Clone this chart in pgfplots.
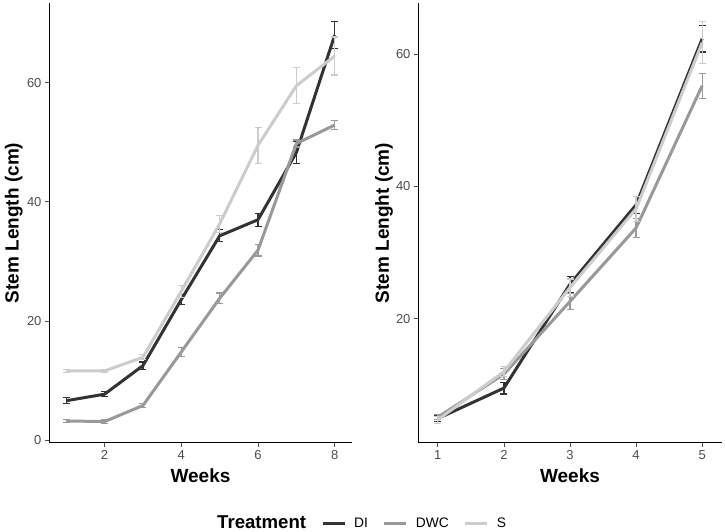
\documentclass[border=0pt]{standalone}
\usepackage{pgfplots}
\pgfplotsset{compat=1.18}
\usepackage{fontspec}
\setmainfont{Liberation Sans}
\definecolor{cDI}{HTML}{333333}
\definecolor{cDWC}{HTML}{999999}
\definecolor{cS}{HTML}{CCCCCC}
\definecolor{tickgray}{HTML}{4D4D4D}

\pgfplotsset{
  myax/.style={
    scale only axis, height=440pt,
    axis x line*=bottom, axis y line*=left,
    axis line style={black, line width=1pt, -},
    tick align=outside, major tick length=4pt,
    tick style={color=tickgray, line width=0.8pt},
    ticklabel style={font=\fontsize{13}{15}\selectfont, text=tickgray},
    /pgf/number format/assume math mode=true,
    label style={font=\fontsize{19}{22}\selectfont\bfseries},
    ylabel style={at={(axis description cs:-0.086,0.5)}, anchor=south, inner sep=0pt},
    xlabel style={at={(axis description cs:0.5,-0.059)}, anchor=north, inner sep=0pt},
  },
  ser/.style={color=#1, line width=3pt, line join=round, no markers,
    error bars/.cd, y dir=both, y explicit,
    error bar style={color=#1, line width=1.2pt},
    error mark options={color=#1, line width=1.2pt, mark size=3.5pt, rotate=90}},
}

\begin{document}
\begin{tikzpicture}
\path[use as bounding box] (0pt,0pt) rectangle (725pt,532pt);

\begin{axis}[myax, at={(49pt,89pt)}, anchor=south west, width=303pt,
  xmin=0.55, xmax=8.45, ymin=-0.5, ymax=73.4,
  xtick={2,4,6,8}, ytick={0,20,40,60},
  xlabel={Weeks}, ylabel={Stem Length (cm)},
  legend columns=4,
  legend style={at={(axis description cs:0.528,-0.182)}, anchor=west,
    draw=none, fill=none, inner sep=0pt,
    font=\fontsize{13.8}{15}\selectfont,
    nodes={inner sep=0pt, anchor=west},
    /tikz/every odd column/.append style={column sep=8pt},
    /tikz/every even column/.append style={column sep=15pt}},
  legend image code/.code={\draw[#1, line width=3pt] (0pt,0pt) -- (22pt,0pt);},
]
\addlegendimage{empty legend}
\addlegendentry{\fontsize{18.6}{20}\selectfont\bfseries Treatment}
\addplot[ser=cDI] table[x=x, y=y, y error=e] {
x y e
1 6.6 0.5
2 7.7 0.4
3 12.5 0.6
4 23.6 0.9
5 34.3 1.0
6 37.0 1.1
7 48.3 1.8
8 68.0 2.3
};
\addlegendentry{DI}
\addplot[ser=cDWC] table[x=x, y=y, y error=e] {
x y e
1 3.2 0.3
2 3.1 0.3
3 5.8 0.4
4 14.8 0.8
5 23.8 0.9
6 31.9 1.0
7 49.8 0.6
8 52.9 0.8
};
\addlegendentry{DWC}
\addplot[ser=cS] table[x=x, y=y, y error=e] {
x y e
1 11.6 0.3
2 11.6 0.3
3 13.9 0.4
4 25.0 1.0
5 36.3 1.4
6 49.5 3.0
7 59.5 3.0
8 64.5 3.2
};
\addlegendentry{S}
\end{axis}

\begin{axis}[myax, at={(418pt,89pt)}, anchor=south west, width=304pt,
  xmin=0.7, xmax=5.3, ymin=1.2, ymax=67.7,
  xtick={1,2,3,4,5}, ytick={20,40,60},
  xlabel={Weeks}, ylabel={Stem Lenght (cm)},
  ylabel style={at={(axis description cs:-0.082,0.5)}},
]
\addplot[ser=cDI] table[x=x, y=y, y error=e] {
x y e
1 4.9 0.4
2 9.5 0.9
3 25.2 1.2
4 37.2 1.3
5 62.3 2.0
};
\addplot[ser=cDWC] table[x=x, y=y, y error=e] {
x y e
1 5.1 0.4
2 11.6 0.8
3 22.6 1.2
4 33.7 1.4
5 55.2 1.9
};
\addplot[ser=cS] table[x=x, y=y, y error=e] {
x y e
1 4.7 0.5
2 12.0 0.8
3 24.7 1.3
4 36.6 1.9
5 61.7 3.2
};
\end{axis}
\end{tikzpicture}
\end{document}
